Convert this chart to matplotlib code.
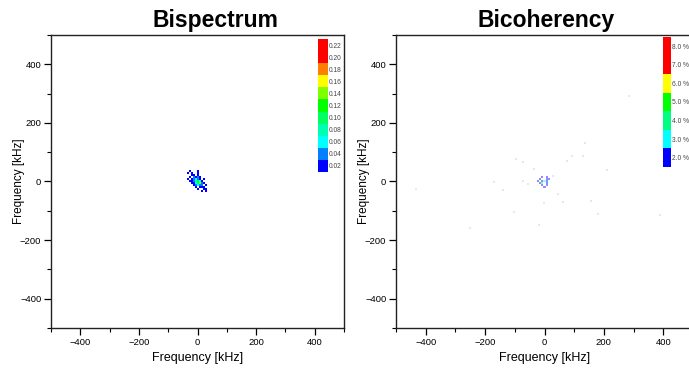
import numpy as np
import matplotlib
matplotlib.use("Agg")
import matplotlib.pyplot as plt
from matplotlib.colors import ListedColormap, BoundaryNorm
from matplotlib.ticker import MultipleLocator

plt.rcParams["font.family"] = ["Liberation Sans", "DejaVu Sans"]

# --- data -------------------------------------------------------------
# bispectrum patch around the origin, cell size in kHz
cell = 6.8
bispec_patch = np.array([
    [0, 0, 0, 0, 0, 0, 0, 0, 0, 0, 0, 0, 0, 0, 0],
    [0, 0, 0, 0, 0, 0, 0, 0, 0, 0, 0, 0, 0, 0, 0],
    [0, 0, 0, .02, 0, 0, 0, .02, 0, 0, 0, 0, 0, 0, 0],
    [0, 0, .02, 0, .02, 0, 0, .02, 0, 0, 0, 0, 0, 0, 0],
    [0, 0, 0, 0, .02, .02, 0, .02, 0, 0, 0, 0, 0, 0, 0],
    [0, 0, 0, .02, 0, .04, .02, .04, .02, 0, 0, 0, 0, 0, 0],
    [0, 0, .02, 0, .02, .04, .06, .04, .02, 0, .02, 0, 0, 0, 0],
    [0, 0, 0, .02, .02, .04, .08, .12, .06, .02, 0, 0, 0, 0, 0],
    [0, 0, 0, 0, .02, .02, .06, .10, .14, .04, .02, 0, 0, 0, 0],
    [0, 0, 0, 0, 0, .02, .04, .06, .04, .04, 0, .02, 0, 0, 0],
    [0, 0, 0, 0, 0, 0, .02, 0, .02, .02, .02, 0, 0, 0, 0],
    [0, 0, 0, 0, 0, 0, 0, .02, 0, 0, .02, .02, 0, 0, 0],
    [0, 0, 0, 0, 0, 0, 0, 0, 0, .02, 0, .02, 0, 0, 0],
    [0, 0, 0, 0, 0, 0, 0, 0, 0, 0, 0, 0, 0, 0, 0],
    [0, 0, 0, 0, 0, 0, 0, 0, 0, 0, 0, 0, 0, 0, 0],
])

# bicoherency [%] patch around the origin
bicoh_patch = np.array([
    [0, 0, 0, 0, 0, 0, 0],
    [0, 0, 2, 0, 2, 0, 0],
    [0, 2, 0, 0, 2, 2, 0],
    [2, 0, 2, 3, 2, 0, 0],
    [0, 2, 5, 0, 2, 0, 0],
    [0, 0, 2, 0, 2, 0, 0],
    [0, 0, 0, 2, 0, 0, 0],
])

# weak bicoherency points (kHz)
weak_x = [-97, -71, -37, -171, -71, -54, 44, 61, -3, -104, 94, 138, 128, 77,
          -434, 155, 286, 390, -140, 30, -20, 180, -250, 210]
weak_y = [78, 65, 44, -3, 3, -7, -41, -71, -75, -105, 88, 133, 88, 71,
          -24, -65, 293, -116, -30, 20, -150, -110, -160, 40]

bispec_levels = [0.02, 0.04, 0.06, 0.08, 0.10, 0.12, 0.14, 0.16, 0.18, 0.20, 0.22]
bispec_colors = ["#0000ff", "#0080ff", "#00ffff", "#00ffb0", "#00ff60", "#00ff00",
                 "#80ff00", "#ffff00", "#ff8000", "#ff0000", "#ff0000"]
bicoh_levels = [2.0, 3.0, 4.0, 5.0, 6.0, 7.0, 8.0]
bicoh_colors = ["#0000ff", "#00ffff", "#00ff80", "#00ff00", "#ffff00", "#ff0000", "#ff0000"]

W, H = 689, 369


def px_axes(l, t, r, b):
    return [l / W, 1 - b / H, (r - l) / W, (b - t) / H]


def style_axes(ax):
    ax.set_xlim(-500, 500)
    ax.set_ylim(-500, 500)
    ax.xaxis.set_major_locator(MultipleLocator(200))
    ax.xaxis.set_minor_locator(MultipleLocator(100))
    ax.yaxis.set_major_locator(MultipleLocator(200))
    ax.yaxis.set_minor_locator(MultipleLocator(100))
    ax.tick_params(which="major", direction="out", length=5, width=0.9,
                   labelsize=6.8, pad=2)
    ax.tick_params(which="minor", direction="out", length=3, width=0.8)
    for s in ax.spines.values():
        s.set_linewidth(1.0)
        s.set_color("#222222")
    ax.set_xlabel("Frequency [kHz]", fontsize=9, labelpad=4)
    ax.set_ylabel("Frequency [kHz]", fontsize=8.5, labelpad=-4)


def level_cmap(levels, colors):
    step = levels[1] - levels[0]
    bounds = [v - step / 2 for v in levels] + [levels[-1] + step / 2]
    cmap = ListedColormap(colors)
    return cmap, BoundaryNorm(bounds, cmap.N)


def inset_bar(fig, rect, levels, colors, fmt):
    cax = fig.add_axes(rect)
    cax.imshow(np.arange(len(levels))[::-1, None], cmap=ListedColormap(colors),
               aspect="auto", interpolation="nearest", extent=[0, 1, 0, len(levels)])
    cax.set_xticks([])
    cax.yaxis.tick_right()
    cax.set_yticks(np.arange(len(levels)) + 0.5)
    cax.set_yticklabels([fmt(v) for v in levels])
    cax.tick_params(axis="y", length=0, pad=1, labelsize=4.8, labelcolor="#444444")
    for s in cax.spines.values():
        s.set_visible(False)
    return cax


fig = plt.figure(figsize=(W / 100, H / 100), dpi=100)

# --- bispectrum -------------------------------------------------------
ax1 = fig.add_axes(px_axes(51, 35, 344, 328))
cmap1, norm1 = level_cmap(bispec_levels, bispec_colors)
n = bispec_patch.shape[0]
half = n * cell / 2
data1 = np.ma.masked_less(bispec_patch, 0.01)
ax1.imshow(data1, cmap=cmap1, norm=norm1, interpolation="nearest",
           extent=[-half, half, -half, half], aspect="auto")
style_axes(ax1)
inset_bar(fig, px_axes(318, 39, 327, 172), bispec_levels, bispec_colors,
          lambda v: f"{v:.2f}")
fig.text(215 / W, 1 - 27 / H, "Bispectrum", ha="center", va="baseline",
         fontsize=16.5, fontweight="bold")

# --- bicoherency ------------------------------------------------------
ax2 = fig.add_axes(px_axes(396, 35, 693, 328))
cmap2, norm2 = level_cmap(bicoh_levels, bicoh_colors)
ax2.scatter(weak_x, weak_y, s=1.5, marker="s", color="#e4e8f3", linewidths=0)
m = bicoh_patch.shape[0]
half2 = m * cell / 2
data2 = np.ma.masked_less(bicoh_patch, 1.5)
ax2.imshow(data2, cmap=cmap2, norm=norm2, interpolation="nearest", alpha=0.45,
           extent=[-half2, half2, -half2, half2], aspect="auto")
style_axes(ax2)
inset_bar(fig, px_axes(663, 37, 671, 167), bicoh_levels, bicoh_colors,
          lambda v: f"{v:.1f} %")
fig.text(546 / W, 1 - 27 / H, "Bicoherency", ha="center", va="baseline",
         fontsize=16.5, fontweight="bold")

fig.savefig("out.png", dpi=100)
